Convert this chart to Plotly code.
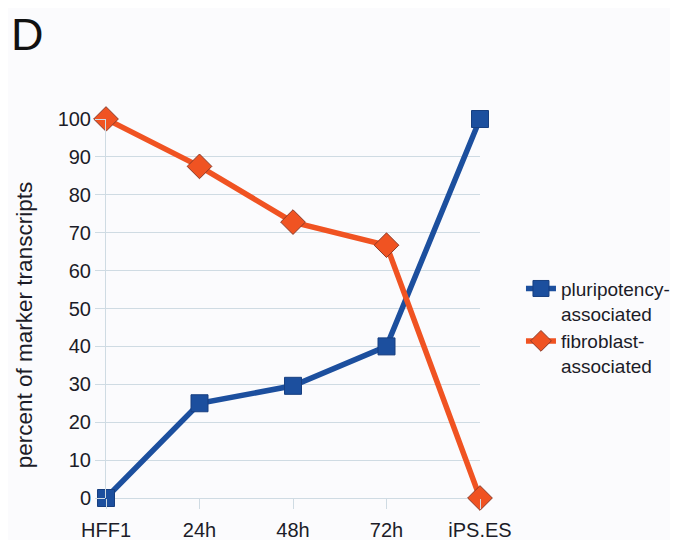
import plotly.graph_objects as go

categories = ["HFF1", "24h", "48h", "72h", "iPS.ES"]
pluripotency = [0, 25, 29.6, 40, 100]
fibroblast = [100, 87.5, 72.8, 66.7, 0]
y_ticks = list(range(0, 101, 10))

blue = "#1c4f9e"
orange = "#f05322"
grid = "#cfdbe3"

fig = go.Figure()
fig.add_trace(go.Scatter(
    x=categories, y=pluripotency, mode="lines+markers",
    name="pluripotency-<br>associated",
    line=dict(color=blue, width=5.5),
    marker=dict(symbol="square", size=17, color=blue, line=dict(color="#173f80", width=1)),
    cliponaxis=False,
))
fig.add_trace(go.Scatter(
    x=categories, y=fibroblast, mode="lines+markers",
    name="fibroblast-<br>associated",
    line=dict(color=orange, width=5.5),
    marker=dict(symbol="diamond", size=19, color=orange, line=dict(color="#8a3a28", width=1)),
    cliponaxis=False,
))

fig.update_layout(
    width=678, height=540,
    paper_bgcolor="#fbfbfd", plot_bgcolor="#fbfbfd",
    margin=dict(l=98, r=206, t=111, b=50, autoexpand=False),
    font=dict(family="Liberation Sans, Arial, sans-serif", size=19, color="#1c1c28"),
    showlegend=True,
    legend=dict(x=0.7566, xref="container", y=0.5155, yref="container", yanchor="top",
                xanchor="left", font=dict(size=19, color="#1c1c28"), valign="top",
                bgcolor="rgba(0,0,0,0)", itemwidth=30),
    annotations=[
        dict(text="D", x=-0.26, y=1.224, xref="paper", yref="paper",
             xanchor="left", yanchor="middle", showarrow=False,
             font=dict(size=45, color="#111111")),
        dict(text="percent of marker transcripts", x=-0.216, y=0.4565,
             xref="paper", yref="paper", xanchor="center", yanchor="middle",
             textangle=-90, showarrow=False, font=dict(size=22.5, color="#1c1c28")),
    ],
)

fig.update_xaxes(
    type="category", range=[0, 4], showgrid=False,
    ticks="outside", ticklen=10, tickcolor=grid, showline=False,
    tickfont=dict(size=20), zeroline=False, ticklabelstandoff=4,
)
fig.update_yaxes(
    range=[0, 100], tickvals=y_ticks, showgrid=True, gridcolor=grid, gridwidth=1,
    ticks="outside", ticklen=10, tickcolor=grid, showline=True, linecolor=grid, linewidth=1,
    zeroline=True, zerolinecolor=grid, zerolinewidth=1,
    tickfont=dict(size=20),
)
fig.write_html("out.html")
